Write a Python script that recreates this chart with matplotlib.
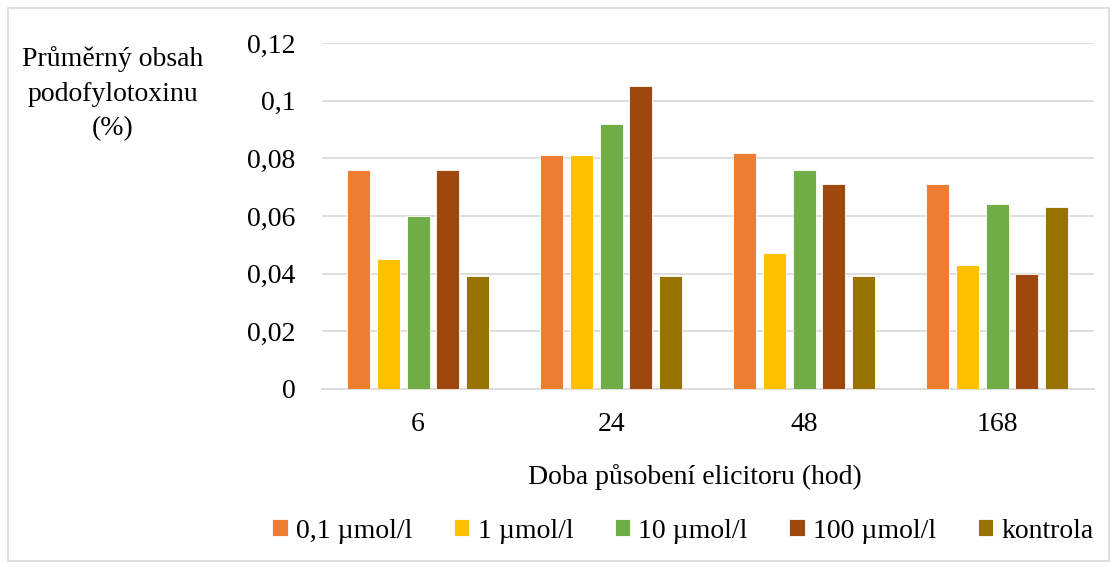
import matplotlib
matplotlib.use("Agg")
import matplotlib.pyplot as plt
import numpy as np
from matplotlib.patches import Rectangle

categories = ["6", "24", "48", "168"]
series_names = ["0,1 µmol/l", "1 µmol/l", "10 µmol/l", "100 µmol/l", "kontrola"]
s01 = [0.076, 0.081, 0.082, 0.071]
s1 = [0.045, 0.081, 0.047, 0.043]
s10 = [0.060, 0.092, 0.076, 0.064]
s100 = [0.076, 0.105, 0.071, 0.040]
kontrola = [0.039, 0.039, 0.039, 0.063]
colors = ["#ED7D31", "#FFC000", "#70AD47", "#9E480E", "#997300"]
yticks = [0, 0.02, 0.04, 0.06, 0.08, 0.1, 0.12]
ytick_labels = ["0", "0,02", "0,04", "0,06", "0,08", "0,1", "0,12"]

plt.rcParams['font.family'] = ['Liberation Serif', 'DejaVu Serif']
FS = 20

fig = plt.figure(figsize=(11.17, 5.67), dpi=100)
ax = fig.add_axes([0.288, 0.3144, 0.691, 0.6096])

x = np.arange(len(categories))
step = 0.154
width = 0.119
all_series = [s01, s1, s10, s100, kontrola]
for i, (vals, c, name) in enumerate(zip(all_series, colors, series_names)):
    ax.bar(x + (i - 2) * step, vals, width=width, color=c, label=name,
           edgecolor="white", linewidth=0.6, zorder=3)

ax.set_xlim(-0.5, len(categories) - 0.5)
ax.set_ylim(0, 0.12)
ax.set_yticks(yticks)
ax.set_yticklabels(ytick_labels, fontsize=FS)
ax.set_xticks(x)
ax.set_xticklabels(categories, fontsize=FS)
ax.tick_params(axis="both", length=0)
ax.tick_params(axis="y", pad=19)
ax.tick_params(axis="x", pad=17)
ax.grid(axis="y", color="#D9D9D9", linewidth=1.2, zorder=0)
for s in ["top", "right", "left"]:
    ax.spines[s].set_visible(False)
ax.spines["bottom"].set_color("#D9D9D9")
ax.spines["bottom"].set_linewidth(1.2)

fig.text(113 / 1117, 1 - 94 / 567, "Průměrný obsah\npodofylotoxinu\n(%)", ha="center",
         va="center", fontsize=FS, linespacing=1.5)
fig.text(695 / 1117, 1 - 477 / 567, "Doba působení elicitoru (hod)", ha="center",
         va="center", fontsize=FS)

leg = fig.legend(loc="center", bbox_to_anchor=(683 / 1117, 1 - 531 / 567), ncol=5,
                 frameon=False, fontsize=FS, handlelength=0.55, handleheight=0.55,
                 handletextpad=0.3, columnspacing=1.5)

fig.patches.append(Rectangle((8 / 1117, 6 / 567), 1 - 16 / 1117, 1 - 14 / 567,
                             transform=fig.transFigure, fill=False,
                             edgecolor="#D9D9D9", linewidth=1.2))

fig.savefig("out.png", dpi=100)
